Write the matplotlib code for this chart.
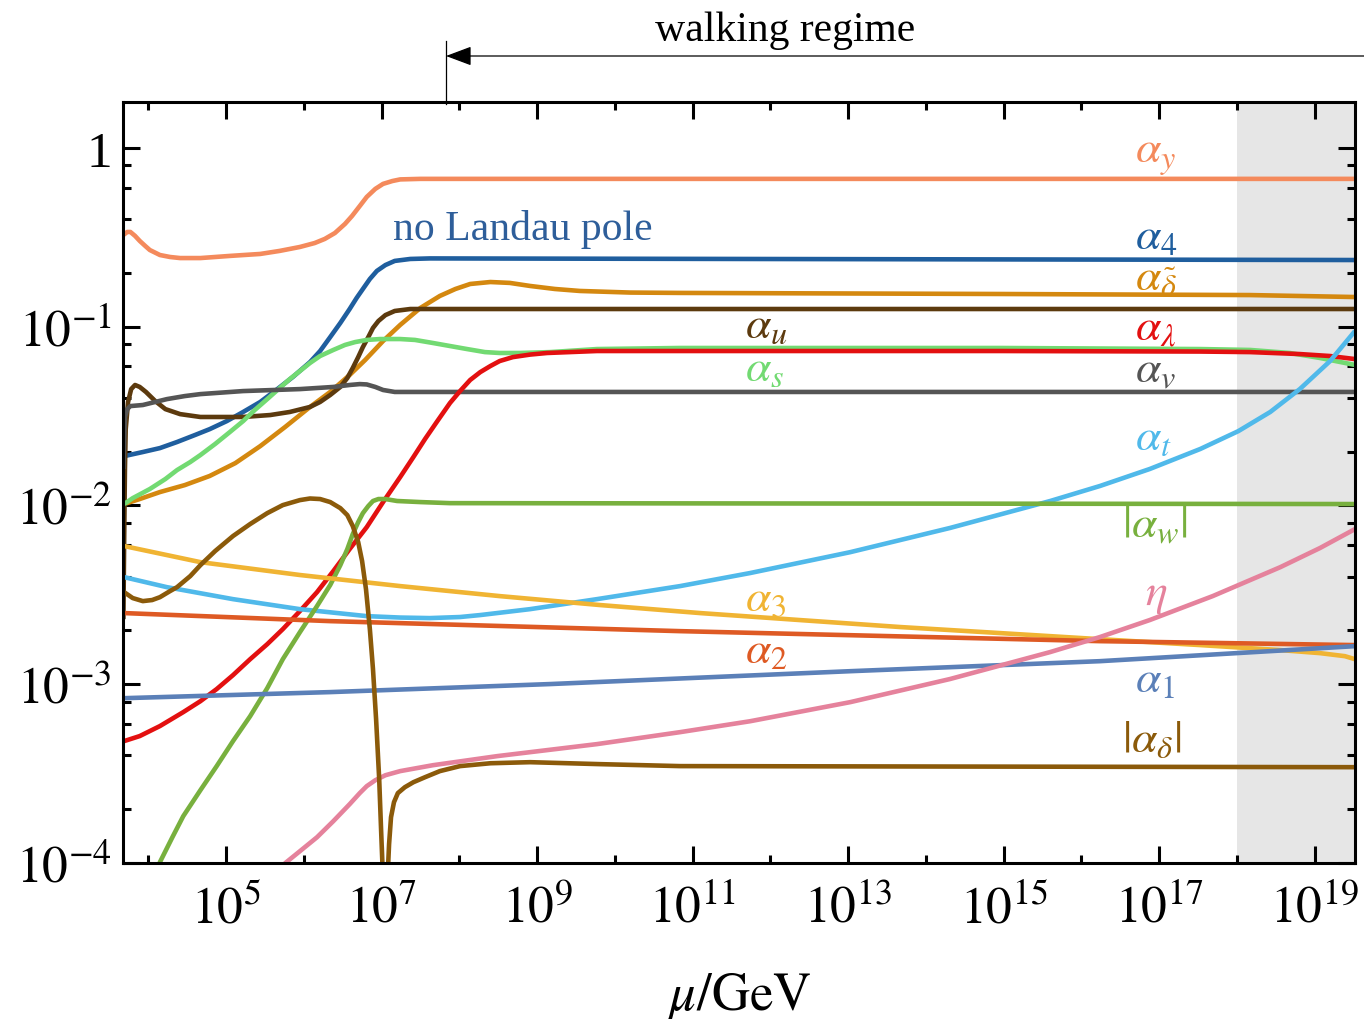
import numpy as np
import matplotlib
matplotlib.use("Agg")
import matplotlib.pyplot as plt
from matplotlib.ticker import FixedLocator, FuncFormatter, NullFormatter
from matplotlib.lines import Line2D

plt.rcParams['font.family'] = ['Liberation Serif', 'DejaVu Serif']
plt.rcParams['mathtext.fontset'] = 'stix'

# ---------------- data (log10 mu/GeV, log10 alpha) ----------------
lmu_y = [3.68, 3.73, 3.77, 3.83, 3.89, 3.96, 4.02, 4.15, 4.28, 4.41, 4.67, 5.05, 5.44, 5.69, 5.95, 6.14, 6.27, 6.40, 6.53, 6.62, 6.72, 6.81, 6.92, 7.02, 7.14, 7.24, 7.50, 19.52]
la_y = [-0.487, -0.470, -0.470, -0.492, -0.520, -0.548, -0.571, -0.599, -0.610, -0.616, -0.616, -0.604, -0.593, -0.576, -0.554, -0.532, -0.509, -0.476, -0.425, -0.381, -0.325, -0.274, -0.229, -0.201, -0.185, -0.176, -0.173, -0.173]

lmu_4 = [3.69, 3.93, 4.15, 4.37, 4.60, 4.79, 5.01, 5.22, 5.44, 5.66, 5.86, 6.08, 6.21, 6.34, 6.47, 6.59, 6.68, 6.76, 6.85, 6.94, 7.05, 7.17, 7.37, 7.62, 19.52]
la_4 = [-1.724, -1.701, -1.679, -1.645, -1.606, -1.573, -1.528, -1.477, -1.421, -1.349, -1.281, -1.198, -1.136, -1.058, -0.979, -0.901, -0.839, -0.789, -0.733, -0.688, -0.655, -0.632, -0.621, -0.618, -0.627]

lmu_dt = [3.69, 3.89, 4.15, 4.47, 4.79, 5.12, 5.44, 5.76, 6.08, 6.34, 6.59, 6.79, 7.02, 7.24, 7.50, 7.75, 7.95, 8.14, 8.40, 8.65, 8.91, 9.23, 9.55, 10.20, 10.84, 14.96, 18.17, 19.52]
la_dt = [-1.992, -1.964, -1.925, -1.886, -1.835, -1.763, -1.668, -1.561, -1.449, -1.365, -1.270, -1.186, -1.080, -0.990, -0.895, -0.828, -0.789, -0.761, -0.750, -0.755, -0.772, -0.789, -0.800, -0.809, -0.811, -0.817, -0.823, -0.834]

lmu_u = [3.68, 3.69, 3.70, 3.71, 3.74, 3.78, 3.83, 3.89, 3.97, 4.09, 4.22, 4.41, 4.67, 5.22, 5.57, 5.82, 6.08, 6.21, 6.34, 6.47, 6.56, 6.63, 6.70, 6.76, 6.83, 6.89, 6.96, 7.05, 7.17, 7.37, 19.52]
la_u = [-2.636, -2.188, -1.796, -1.573, -1.421, -1.349, -1.326, -1.337, -1.365, -1.416, -1.461, -1.489, -1.505, -1.505, -1.494, -1.477, -1.449, -1.421, -1.382, -1.337, -1.287, -1.231, -1.170, -1.114, -1.058, -1.007, -0.968, -0.935, -0.912, -0.901, -0.901]

lmu_s = [3.69, 3.80, 4.02, 4.22, 4.37, 4.54, 4.67, 4.86, 5.05, 5.22, 5.37, 5.53, 5.69, 5.82, 5.95, 6.08, 6.21, 6.38, 6.53, 6.66, 6.81, 6.98, 7.24, 7.43, 7.66, 7.88, 8.10, 8.33, 8.52, 8.78, 9.17, 9.77, 10.84, 14.96, 17.53, 18.17, 18.68, 19.07, 19.52]
la_s = [-1.992, -1.959, -1.908, -1.852, -1.802, -1.757, -1.718, -1.656, -1.589, -1.528, -1.466, -1.405, -1.343, -1.293, -1.248, -1.203, -1.164, -1.130, -1.102, -1.086, -1.074, -1.069, -1.069, -1.074, -1.091, -1.108, -1.125, -1.142, -1.147, -1.147, -1.142, -1.125, -1.119, -1.119, -1.125, -1.130, -1.147, -1.175, -1.214]

lmu_v = [3.68, 3.69, 3.70, 3.73, 3.77, 3.93, 4.24, 4.47, 4.67, 5.22, 5.95, 6.38, 6.59, 6.72, 6.81, 6.92, 7.02, 7.17, 7.46, 19.52]
la_v = [-1.796, -1.628, -1.505, -1.461, -1.444, -1.438, -1.405, -1.388, -1.377, -1.360, -1.349, -1.337, -1.326, -1.321, -1.323, -1.337, -1.354, -1.365, -1.365, -1.365]

lmu_lam = [3.69, 3.89, 4.15, 4.45, 4.67, 4.88, 5.09, 5.31, 5.53, 5.73, 5.95, 6.17, 6.38, 6.59, 6.81, 7.02, 7.24, 7.41, 7.56, 7.71, 7.88, 8.01, 8.14, 8.27, 8.40, 8.52, 8.69, 8.91, 9.13, 9.77, 10.84, 14.96, 17.53, 18.17, 18.81, 19.20, 19.52]
la_lam = [-3.318, -3.290, -3.234, -3.156, -3.095, -3.027, -2.949, -2.860, -2.776, -2.692, -2.591, -2.485, -2.367, -2.244, -2.121, -1.981, -1.841, -1.729, -1.628, -1.533, -1.427, -1.360, -1.298, -1.254, -1.220, -1.192, -1.170, -1.156, -1.147, -1.136, -1.136, -1.136, -1.139, -1.142, -1.153, -1.164, -1.181]

lmu_t = [3.69, 4.24, 5.09, 5.95, 6.81, 7.24, 7.62, 8.01, 8.27, 8.91, 9.77, 10.84, 11.74, 13.03, 14.31, 15.60, 16.24, 16.88, 17.53, 18.02, 18.43, 18.81, 19.20, 19.52]
la_t = [-2.401, -2.457, -2.524, -2.580, -2.619, -2.627, -2.630, -2.624, -2.613, -2.580, -2.524, -2.451, -2.378, -2.261, -2.126, -1.975, -1.891, -1.796, -1.684, -1.584, -1.477, -1.349, -1.192, -1.024]

lmu_w = [3.997, 4.15, 4.31, 4.45, 4.67, 4.88, 5.09, 5.31, 5.53, 5.73, 5.95, 6.17, 6.34, 6.47, 6.56, 6.63, 6.70, 6.76, 6.83, 6.89, 6.96, 7.05, 7.20, 7.50, 7.88, 19.52]
la_w = [-4.231, -3.995, -3.856, -3.738, -3.593, -3.458, -3.318, -3.179, -3.022, -2.860, -2.709, -2.563, -2.445, -2.334, -2.244, -2.160, -2.093, -2.043, -2.003, -1.975, -1.964, -1.964, -1.975, -1.981, -1.987, -1.992]

lmu_3 = [3.69, 4.67, 5.95, 7.24, 8.52, 9.81, 11.10, 12.38, 13.67, 14.96, 16.24, 17.53, 18.56, 19.07, 19.39, 19.52]
la_3 = [-2.227, -2.317, -2.389, -2.451, -2.507, -2.557, -2.602, -2.641, -2.680, -2.714, -2.748, -2.781, -2.809, -2.826, -2.843, -2.860]

lmu_2 = [3.69, 6.34, 10.84, 16.24, 19.52]
la_2 = [-2.602, -2.647, -2.703, -2.759, -2.781]

lmu_1 = [3.69, 6.34, 9.17, 13.03, 16.24, 19.52]
la_1 = [-3.078, -3.044, -2.999, -2.927, -2.871, -2.787]

lmu_eta = [5.63, 5.76, 5.95, 6.17, 6.38, 6.59, 6.72, 6.81, 6.92, 7.05, 7.24, 7.66, 8.49, 9.77, 10.84, 11.74, 13.03, 14.31, 15.60, 16.24, 16.88, 17.69, 18.56, 19.07, 19.52]
la_eta = [-4.119, -4.001, -3.934, -3.856, -3.766, -3.671, -3.609, -3.570, -3.537, -3.509, -3.486, -3.453, -3.402, -3.335, -3.268, -3.207, -3.100, -2.971, -2.820, -2.736, -2.641, -2.507, -2.345, -2.238, -2.132]

lmu_d = [3.69, 3.80, 3.93, 4.05, 4.15, 4.28, 4.37, 4.54, 4.67, 4.86, 5.09, 5.31, 5.53, 5.73, 5.95, 6.08, 6.21, 6.34, 6.47, 6.56, 6.63, 6.70, 6.75, 6.80, 6.85, 6.89, 6.93, 6.97, 6.994, 7.019, 7.045, 7.071, 7.097, 7.122, 7.16, 7.21, 7.30, 7.41, 7.56, 7.75, 8.01, 8.40, 8.91, 9.81, 10.84, 19.52]
la_d = [-2.485, -2.518, -2.535, -2.529, -2.513, -2.479, -2.457, -2.395, -2.334, -2.255, -2.171, -2.104, -2.043, -1.998, -1.970, -1.961, -1.964, -1.981, -2.015, -2.054, -2.115, -2.205, -2.311, -2.468, -2.692, -2.915, -3.195, -3.531, -3.811, -4.091, -4.54, -4.147, -3.895, -3.744, -3.660, -3.609, -3.576, -3.548, -3.520, -3.486, -3.458, -3.442, -3.436, -3.447, -3.458, -3.464]

series = [
    (lmu_y, la_y, '#F48A5C'),
    (lmu_4, la_4, '#1F5E9E'),
    (lmu_dt, la_dt, '#D4880F'),
    (lmu_u, la_u, '#5C3A0E'),
    (lmu_s, la_s, '#72DA72'),
    (lmu_v, la_v, '#555555'),
    (lmu_lam, la_lam, '#E31010'),
    (lmu_t, la_t, '#50B9EA'),
    (lmu_w, la_w, '#78B03E'),
    (lmu_3, la_3, '#F0B433'),
    (lmu_2, la_2, '#DE5A24'),
    (lmu_1, la_1, '#5B80B8'),
    (lmu_eta, la_eta, '#E5829C'),
    (lmu_d, la_d, '#8B5A0A'),
]

labels = [
    (r'$\alpha_y$', '#F48A5C', 16.69, -0.078),
    (r'$\alpha_4$', '#1F5E9E', 16.69, -0.562),
    (r'$\alpha_{\tilde{\delta}}$', '#D4880F', 16.69, -0.792),
    (r'$\alpha_\lambda$', '#E31010', 16.69, -1.074),
    (r'$\alpha_v$', '#555555', 16.69, -1.304),
    (r'$\alpha_t$', '#50B9EA', 16.69, -1.684),
    (r'$|\alpha_w|$', '#78B03E', 16.52, -2.171),
    (r'$\eta$', '#E5829C', 16.82, -2.552),
    (r'$\alpha_1$', '#5B80B8', 16.69, -3.039),
    (r'$|\alpha_\delta|$', '#8B5A0A', 16.52, -3.374),
    (r'$\alpha_u$', '#5C3A0E', 11.675, -1.058),
    (r'$\alpha_s$', '#72DA72', 11.675, -1.298),
    (r'$\alpha_3$', '#F0B433', 11.675, -2.585),
    (r'$\alpha_2$', '#DE5A24', 11.675, -2.876),
]

x_major = [5, 7, 9, 11, 13, 15, 17, 19]
x_minor = [4, 6, 8, 10, 12, 14, 16, 18]
y_major = [-4, -3, -2, -1, 0]

# ---------------- figure ----------------
fig = plt.figure(figsize=(13.64, 10.2), dpi=100)
ax = fig.add_axes([123/1364, 1-864/1020, (1355-123)/1364, (864-103)/1020])
ax.set_xscale('log')
ax.set_yscale('log')
xmin, xmax = 10**3.675, 10**19.52
ax.set_xlim(xmin, xmax)
ax.set_ylim(1e-4, 10**0.257)

ax.axvspan(1e18, xmax, color='#E6E6E6', zorder=0, lw=0)

for lx, ly, c in series:
    ax.plot(10**np.array(lx), 10**np.array(ly), color=c, lw=3.3,
            solid_capstyle='butt', solid_joinstyle='round', zorder=2)

for txt, c, lx, ly in labels:
    ax.text(10**lx, 10**ly, txt, color=c, fontsize=33, ha='left', va='baseline', zorder=3)

ax.text(10**7.148, 10**-0.509, 'no Landau pole', color='#2E5E9A', fontsize=30, ha='left', va='baseline')

ax.xaxis.set_major_locator(FixedLocator([10.0**k for k in x_major]))
ax.xaxis.set_minor_locator(FixedLocator([10.0**k for k in x_minor]))
ax.xaxis.set_major_formatter(FuncFormatter(lambda v, p: r'$10^{%d}$' % round(np.log10(v))))
ax.xaxis.set_minor_formatter(NullFormatter())

yminor = [m * 10.0**k for k in range(-4, 1) for m in (2, 4, 6, 8) if m * 10.0**k < 10**0.257]
ax.yaxis.set_major_locator(FixedLocator([10.0**k for k in y_major]))
ax.yaxis.set_minor_locator(FixedLocator(yminor))
ax.yaxis.set_major_formatter(FuncFormatter(lambda v, p: '1' if round(np.log10(v)) == 0 else r'$10^{%d}$' % round(np.log10(v))))
ax.yaxis.set_minor_formatter(NullFormatter())

ax.tick_params(which='both', direction='in', top=True, right=True, width=2.2, labelsize=37)
ax.tick_params(which='major', length=12)
ax.tick_params(which='minor', length=6)
ax.tick_params(axis='x', which='major', pad=16)
ax.tick_params(axis='y', which='major', pad=8)
for s in ax.spines.values():
    s.set_linewidth(2.2)

ax.set_xlabel(r'$\mu/\mathrm{GeV}$', fontsize=38, labelpad=26)

# walking regime annotation
fig.add_artist(Line2D([446/1364, 446/1364], [1-105/1020, 1-42/1020], transform=fig.transFigure, color='k', lw=0.9))
ax.annotate('', xy=(446/1364, 1-57/1020), xytext=(1.0, 1-57/1020), xycoords='figure fraction',
            textcoords='figure fraction',
            arrowprops=dict(arrowstyle='-|>,head_length=0.8,head_width=0.3', mutation_scale=20,
                            color='k', lw=0.9, shrinkA=0, shrinkB=0))
fig.text(785/1364, 1-31/1020, 'walking regime', ha='center', va='center', fontsize=30)

fig.savefig('out.png', dpi=100)
